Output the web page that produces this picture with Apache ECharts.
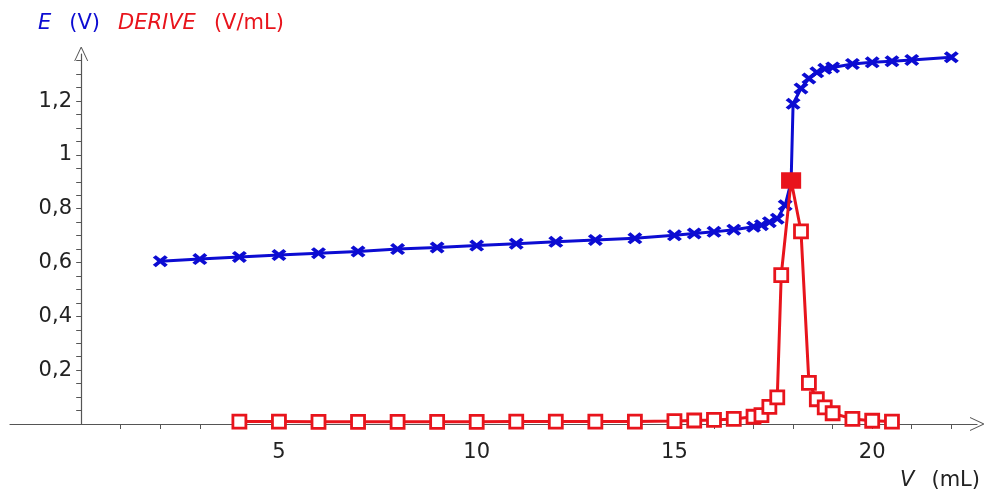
<!DOCTYPE html>
<html>
<head>
<meta charset="utf-8">
<script src="https://cdn.jsdelivr.net/npm/echarts@6/dist/echarts.min.js"></script>
<style>
html,body{margin:0;padding:0;background:#fff;}
#chart{width:988px;height:489px;}
</style>
</head>
<body>
<div id="chart"></div>
<script>
// E (V) versus V (mL)
var blueV = [2,3,4,5,6,7,8,9,10,11,12,13,14,15,15.5,16,16.5,17,17.2,17.4,17.6,17.8,17.95,18,18.2,18.4,18.6,18.8,19,19.5,20,20.5,21,22];
var blueE = [0.605,0.613,0.621,0.628,0.635,0.641,0.650,0.656,0.663,0.670,0.677,0.684,0.690,0.701,0.708,0.714,0.722,0.733,0.739,0.750,0.763,0.813,0.90,1.19,1.247,1.284,1.307,1.320,1.325,1.338,1.344,1.348,1.353,1.363];
// DERIVE (V/mL) versus V (mL)
var redV = [4,5,6,7,8,9,10,11,12,13,14,15,15.5,16,16.5,17,17.2,17.4,17.6,17.7,17.95,18.2,18.4,18.6,18.8,19,19.5,20,20.5];
var redD = [0.009,0.009,0.008,0.008,0.008,0.008,0.008,0.009,0.009,0.009,0.009,0.011,0.013,0.015,0.019,0.027,0.033,0.064,0.099,0.553,0.905,0.716,0.153,0.092,0.062,0.040,0.019,0.012,0.009];
var peakIndex = 20;
// ticks and labels
var xTickValues = [1,2,3,4,5,6,7,8,9,10,11,12,13,14,15,16,17,18,19,20,21,22];
var xLabelValues = [5,10,15,20];
var yTickValues = [0.05,0.1,0.15,0.2,0.25,0.3,0.35,0.4,0.45,0.5,0.55,0.6,0.65,0.7,0.75,0.8,0.85,0.9,0.95,1,1.05,1.1,1.15,1.2,1.25,1.3,1.35];
var yLabelValues = [0.2,0.4,0.6,0.8,1,1.2];

var BLUE = '#0c0cd2';
var RED = '#e8141c';
var AXIS = '#555555';
var FONT = 'DejaVu Sans';
var FS = 21;

var crossPath = 'path://M2,0L5,3L8,0L10,2L7,5L10,8L8,10L5,7L2,10L0,8L3,5L0,2Z';
var chevron = 'path://M0,20L9.3,0L10.7,0L20,20L18.6,20L10,1.8L1.4,20Z';

function pairs(xs, ys) {
  var out = [];
  for (var i = 0; i < xs.length; i++) out.push([xs[i], ys[i]]);
  return out;
}
var redData = pairs(redV, redD).map(function (p, i) {
  if (i === peakIndex) {
    return { value: p, symbolSize: [17, 14], itemStyle: { color: RED } };
  }
  return p;
});
function isLabel(v) {
  for (var i = 0; i < yLabelValues.length; i++) {
    if (Math.abs(yLabelValues[i] - v) < 1e-6) return true;
  }
  return false;
}

var chart = echarts.init(document.getElementById('chart'), null, { renderer: 'canvas' });
chart.setOption({
  animation: false,
  backgroundColor: '#ffffff',
  title: [
    {
      left: 33, top: 8,
      text: '{bi|E}{b|(V)}{ri|DERIVE}{r|(V/mL)}',
      textStyle: {
        rich: {
          bi: { color: BLUE, fontStyle: 'italic', fontWeight: 'normal', fontSize: FS, fontFamily: FONT },
          b: { color: BLUE, fontWeight: 'normal', fontSize: FS, fontFamily: FONT, padding: [0, 0, 0, 18] },
          ri: { color: RED, fontStyle: 'italic', fontWeight: 'normal', fontSize: FS, fontFamily: FONT, padding: [0, 0, 0, 18] },
          r: { color: RED, fontWeight: 'normal', fontSize: FS, fontFamily: FONT, padding: [0, 0, 0, 18] }
        }
      }
    },
    {
      right: 3, top: 465,
      text: '{i|V}{n|(mL)}',
      textStyle: {
        rich: {
          i: { color: '#222', fontStyle: 'italic', fontWeight: 'normal', fontSize: FS, fontFamily: FONT },
          n: { color: '#222', fontWeight: 'normal', fontSize: FS, fontFamily: FONT, padding: [0, 0, 0, 17] }
        }
      }
    }
  ],
  grid: { left: 10, right: 11, top: 54, bottom: 65, containLabel: false, outerBoundsMode: 'none' },
  xAxis: {
    type: 'value',
    min: -1.8, max: 22.65,
    splitLine: { show: false },
    axisLine: { show: true, onZero: true, symbol: ['none', chevron], symbolSize: [14, 18], lineStyle: { color: AXIS, width: 1.2 } },
    axisTick: { show: true, customValues: xTickValues, length: 5, lineStyle: { color: AXIS, width: 1 } },
    axisLabel: { show: true, customValues: xLabelValues, margin: 18, color: '#222', fontSize: FS, fontFamily: FONT }
  },
  yAxis: {
    type: 'value',
    min: 0, max: 1.375, interval: 0.2,
    splitLine: { show: false },
    axisLine: { show: true, onZero: true, symbol: ['none', chevron], symbolSize: [14, 18], lineStyle: { color: AXIS, width: 1.2 } },
    axisTick: { show: true, customValues: yTickValues, length: 5, lineStyle: { color: AXIS, width: 1 } },
    axisLabel: {
      show: true, margin: -62, color: '#222', fontSize: FS, fontFamily: FONT,
      padding: [0, 0, 14, 0],
      showMinLabel: true, showMaxLabel: true, hideOverlap: false,
      formatter: function (v) {
        if (!isLabel(v)) return '';
        return String(Math.round(v * 100) / 100).replace('.', ',');
      }
    }
  },
  series: [
    {
      type: 'line',
      data: pairs(blueV, blueE),
      symbol: crossPath,
      symbolSize: [15, 12],
      showAllSymbol: true,
      lineStyle: { color: BLUE, width: 3 },
      itemStyle: { color: BLUE },
      z: 2
    },
    {
      type: 'line',
      data: redData,
      symbol: 'rect',
      symbolSize: 13,
      showAllSymbol: true,
      lineStyle: { color: RED, width: 3 },
      itemStyle: { color: '#ffffff', borderColor: RED, borderWidth: 2.8 },
      z: 3
    }
  ]
});
</script>
</body>
</html>
